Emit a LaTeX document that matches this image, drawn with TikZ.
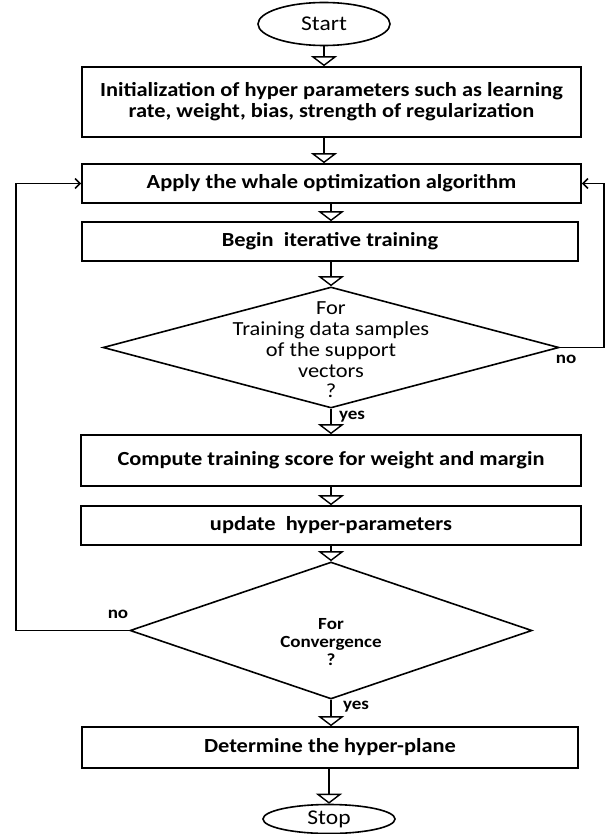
\documentclass[tikz,border=0pt]{standalone}
\usepackage{fontspec}
\setmainfont{Carlito}[FakeStretch=1.12]
\usetikzlibrary{shapes.geometric,arrows.meta}
\begin{document}
\begin{tikzpicture}[x=1pt,y=-1pt,
  every node/.style={font=\fontsize{20}{21}\selectfont\bfseries},
  box/.style={draw,line width=1.6pt,rectangle,inner sep=0pt,align=center},
  term/.style={draw,line width=1.6pt,ellipse,inner sep=0pt,font=\fontsize{21}{22}\selectfont},
  dia/.style={draw,line width=1.6pt,diamond,inner sep=0pt},
  flow/.style={line width=1.6pt,-{Triangle[open,fill=white,length=10pt,width=26pt,line width=1.4pt]}},
  back/.style={line width=1.6pt,-{Straight Barb[length=5pt,width=10pt]}},
  lbl/.style={font=\fontsize{17}{18}\selectfont\bfseries,inner sep=0pt}]
\useasboundingbox (0,0) rectangle (608,834);
\node[term,minimum width=132pt,minimum height=43pt] (start) at (324,24) {Start};
\node[box,minimum width=499pt,minimum height=70pt] (init) at (331.5,102)
  {Initialization of hyper parameters such as learning\\rate, weight, bias, strength of regularization};
\node[box,minimum width=499pt,minimum height=39pt] (apply) at (331.5,183.5) {Apply the whale optimization algorithm};
\node[box,minimum width=496pt,minimum height=39pt] (begin) at (330,241.5) {Begin \ iterative training};
\node[dia,minimum width=456pt,minimum height=121pt] (d1) at (331,347.5) {};
\node[align=center,font=\fontsize{20}{20.7}\selectfont] (d1t) at (331,350) {For\\Training data samples\\of the support\\vectors\\?};
\node[box,minimum width=500pt,minimum height=51pt] (comp) at (331,460.5) {Compute training score for weight and margin};
\node[box,minimum width=500pt,minimum height=39pt] (upd) at (331,525.5) {update \ hyper-parameters};
\node[dia,minimum width=402pt,minimum height=137pt] (d2) at (331,630.5) {};
\node[align=center,font=\fontsize{17}{18}\selectfont\bfseries] (d2t) at (331,642) {For\\Convergence\\?};
\node[box,minimum width=496pt,minimum height=41pt] (det) at (330,747.5) {Determine the hyper-plane};
\node[term,minimum width=132pt,minimum height=29pt] (stop) at (329,819) {Stop};

\draw[flow] (start) -- (start |- init.north);
\draw[flow] (init.south -| start) -- (start |- apply.north);
\draw[flow] (apply.south -| d1) -- (d1 |- begin.north);
\draw[flow] (begin.south -| d1) -- (d1.north);
\draw[flow] (d1.south) -- (d1 |- comp.north);
\draw[flow] (comp.south -| d1) -- (d1 |- upd.north);
\draw[flow] (upd.south -| d1) -- (d2.north);
\draw[flow] (d2.south) -- (d2 |- det.north);
\draw[flow] (det.south -| stop) -- (stop.north);

\coordinate (r1) at (604,347.5);
\coordinate (r2) at (604,183.5);
\draw[back] (d1.east) -- (r1) -- (r2) -- (apply.east);
\coordinate (l1) at (16,630.5);
\coordinate (l2) at (16,183.5);
\draw[back] (d2.west) -- (l1) -- (l2) -- (apply.west);

\node[lbl] (no1) at (566,359) {no};
\node[lbl] (yes1) at (352,417) {yes};
\node[lbl] (no2) at (118,614) {no};
\node[lbl] (yes2) at (356,707) {yes};
\end{tikzpicture}
\end{document}
